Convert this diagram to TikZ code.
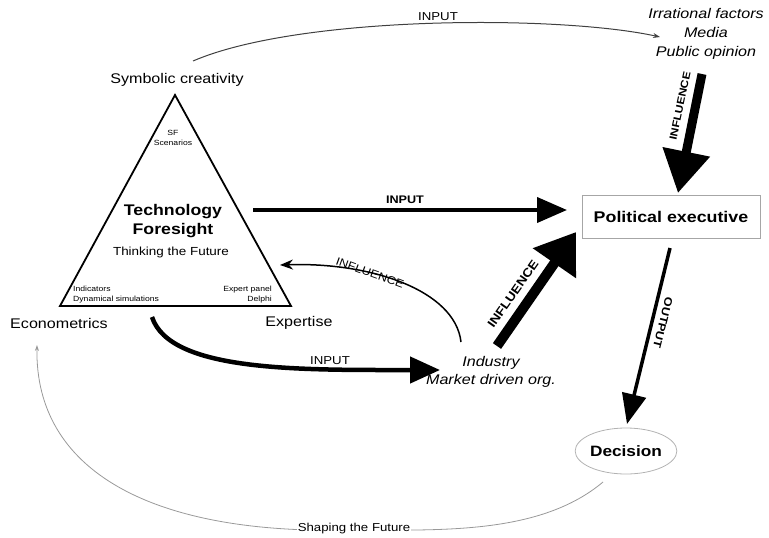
\documentclass[tikz,border=0pt]{standalone}
\usepackage{fontspec}
\setmainfont{Liberation Sans}[FakeStretch=1.15]
\usetikzlibrary{arrows.meta,shapes.geometric}

\begin{document}
\begin{tikzpicture}[x=1pt,y=-1pt,
  lbl/.style={inner sep=0pt,font=\fontsize{14}{17}\selectfont},
  small/.style={inner sep=0pt,font=\fontsize{7.5}{10}\selectfont},
  tag/.style={inner sep=0pt,font=\fontsize{11.5}{13}\selectfont},
  boldtag/.style={inner sep=0pt,font=\bfseries\fontsize{11}{13}\selectfont},
  heavy/.style={line width=#1,line cap=butt},
  thinarrow/.style={draw=black!75,line width=1pt,-{Stealth[length=7pt,width=5pt]}},
  softarrow/.style={draw=black!40,line width=0.8pt,-{Stealth[length=6pt,width=4pt]}}
]
\useasboundingbox (0,0) rectangle (769,538);

% the foresight triangle
\coordinate (apex) at (175,95);
\coordinate (bl) at (60,306);
\coordinate (br) at (291,306);
\draw[line width=1.8pt,line join=miter] (apex) -- (bl) -- (br) -- cycle;

\node[lbl] (sym) at (177,80) {Symbolic creativity};
\node[lbl] (econ) at (59,323) {Econometrics};
\node[lbl] (expt) at (299,323) {Expertise};
\node[inner sep=0pt,align=center,font=\bfseries\fontsize{15.4}{18.5}\selectfont] (tf) at (173,221) {Technology\\Foresight};
\node[inner sep=0pt,font=\fontsize{11.7}{14}\selectfont] (think) at (171,252) {Thinking the Future};
\node[small,align=center] (sf) at (173,138) {SF\\Scenarios};
\node[small,align=left,anchor=west] (indic) at (73,294.5) {Indicators\\Dynamical simulations};
\node[small,align=right,anchor=east] (expert) at (272,294.5) {Expert panel\\Delphi};

% actors
\node[lbl,align=center,font=\itshape\fontsize{14}{19}\selectfont] (irr) at (706,34) {Irrational factors\\Media\\Public opinion};
\node[draw=black!35,line width=0.8pt,minimum width=178pt,minimum height=43pt,inner sep=0pt,
      font=\bfseries\fontsize{15.5}{18}\selectfont] (pe) at (671,217) {Political executive};
\node[lbl,align=center,font=\itshape\fontsize{14}{18}\selectfont] (ind) at (491,372) {Industry\\Market driven org.};
\node[ellipse,draw=black!30,line width=0.8pt,minimum width=88pt,minimum height=46pt,inner sep=0pt,
      font=\bfseries\fontsize{15}{18}\selectfont] (dec) at (626,451) {Decision};

% connector end points
\coordinate (symout) at (193,61);
\coordinate (irrin) at (660,37);
\coordinate (irrout) at (702,74);
\coordinate (pein1) at (678,193);
\coordinate (tfout) at (253,210);
\coordinate (pein2) at (567,210);
\coordinate (indout) at (497,346);
\coordinate (pein3) at (576,232);
\coordinate (indback) at (461,342);
\coordinate (trisidein) at (280,265);
\coordinate (econout) at (152,317);
\coordinate (indin) at (440,370);
\coordinate (peout) at (670,248);
\coordinate (decin) at (627,424);
\coordinate (decout) at (603,482);
\coordinate (econin) at (37,345);

% thin input curve to the irrational factors
\draw[thinarrow] (symout) .. controls (300,15) and (560,15) .. (irrin);
\node[tag] (in1) at (438,17) {INPUT};

% influence from the irrational factors
\draw[heavy=9pt,-{Triangle[length=42pt,width=46pt]}] (irrout) -- (pein1);
\node[boldtag,rotate=78,font=\bfseries\fontsize{10.5}{12}\selectfont] (inf1) at (680,106) {INFLUENCE};

% input from foresight
\draw[heavy=4pt,-{Triangle[length=30pt,width=25pt]}] (tfout) -- (pein2);
\node[boldtag] (in2) at (405,200) {INPUT};

% influence from industry
\draw[heavy=10pt,-{Triangle[length=38pt,width=50pt]}] (indout) -- (pein3);
\node[boldtag,rotate=55,font=\bfseries\fontsize{12}{14}\selectfont] (inf2) at (513,294) {INFLUENCE};

% industry feeds back on foresight
\draw[line width=1.5pt,-{Stealth[length=13pt,width=10pt]}] (indback) .. controls (455,290) and (370,262) .. (trisidein);
\node[tag,rotate=-20,font=\fontsize{11}{13}\selectfont] (inf3) at (370,273) {INFLUENCE};

% input to industry
\draw[heavy=4.5pt,-{Triangle[length=30pt,width=26pt]}] (econout) .. controls (170,372) and (300,370) .. (indin);
\node[tag] (in3) at (330,361) {INPUT};

% output to the decision
\draw[heavy=3.5pt,-{Triangle[length=30pt,width=24pt]}] (peout) -- (decin);
\node[boldtag,rotate=-104] (out) at (663,323) {OUTPUT};

% feedback loop
\draw[softarrow] (decout) .. controls (540,535) and (440,530) .. (352,530)
  .. controls (150,535) and (35,470) .. (econin);
\node[tag,fill=white,inner sep=1pt] (shape) at (354,529) {Shaping the Future};
\end{tikzpicture}
\end{document}
